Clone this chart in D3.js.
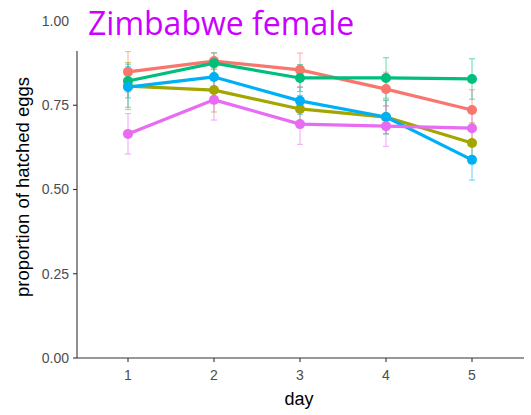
<!DOCTYPE html>
<html>
<head>
<meta charset="utf-8">
<script src="https://cdn.jsdelivr.net/npm/d3@7"></script>
<style>
  html, body { margin: 0; padding: 0; background: #fff; }
  svg { display: block; }
</style>
</head>
<body>
<svg id="chart" width="531" height="415"></svg>
<script>
// Days of observation
const days = [1, 2, 3, 4, 5];
const yTicks = [0, 0.25, 0.5, 0.75, 1.0];

// Mean proportion of hatched eggs per group and day
const groupNames = ["A", "B", "C", "D", "E"];
const groupColors = ["#F8766D", "#A3A500", "#00BF7D", "#00B0F6", "#E76BF3"];
const meanA = [0.849, 0.881, 0.855, 0.798, 0.736];
const meanB = [0.807, 0.795, 0.739, 0.715, 0.638];
const meanC = [0.822, 0.875, 0.831, 0.831, 0.828];
const meanD = [0.804, 0.834, 0.763, 0.715, 0.588];
const meanE = [0.665, 0.766, 0.694, 0.688, 0.682];
// Standard errors
const seA = [0.06, 0.025, 0.05, 0.05, 0.06];
const seB = [0.07, 0.065, 0.04, 0.05, 0.06];
const seC = [0.05, 0.03, 0.04, 0.06, 0.06];
const seD = [0.06, 0.04, 0.04, 0.05, 0.06];
const seE = [0.06, 0.06, 0.06, 0.06, 0.05];

const means = [meanA, meanB, meanC, meanD, meanE];
const ses = [seA, seB, seC, seD, seE];

const series = groupNames.map((name, i) => ({
  name,
  color: groupColors[i],
  values: days.map((d, j) => ({ day: d, mean: means[i][j], se: ses[i][j] }))
}));

const svg = d3.select("#chart");

const x = d3.scaleLinear().domain([1, 5]).range([128, 472]);
const y = d3.scaleLinear().domain([0, 1]).range([358, 21]);

const axisColor = "#333333";
const labelColor = "#4D4D4D";
const sans = "Liberation Sans, Arial, sans-serif";

// Y axis
const yAxis = svg.append("g").attr("transform", "translate(77,0)");
yAxis.append("line")
  .attr("x1", 0).attr("x2", 0)
  .attr("y1", 51).attr("y2", y(0))
  .attr("stroke", axisColor).attr("stroke-width", 1.1);
yAxis.selectAll(".yt").data(yTicks).enter().append("g")
  .attr("transform", d => `translate(0,${y(d)})`)
  .each(function (d) {
    const g = d3.select(this);
    if (d < 1) {
      g.append("line").attr("x1", -4).attr("x2", 0)
        .attr("stroke", axisColor).attr("stroke-width", 1.1);
    }
    g.append("text")
      .attr("x", -8).attr("dy", "0.35em")
      .attr("text-anchor", "end")
      .attr("font-family", sans)
      .attr("font-size", 14)
      .attr("fill", labelColor)
      .text(d3.format(".2f")(d));
  });

// X axis
const xAxis = svg.append("g").attr("transform", `translate(0,${y(0)})`);
xAxis.append("line")
  .attr("x1", 77).attr("x2", 524)
  .attr("stroke", axisColor).attr("stroke-width", 1.1);
xAxis.selectAll(".xt").data(days).enter().append("g")
  .attr("transform", d => `translate(${x(d)},0)`)
  .each(function (d) {
    const g = d3.select(this);
    g.append("line").attr("y1", 0).attr("y2", 4)
      .attr("stroke", axisColor).attr("stroke-width", 1.1);
    g.append("text")
      .attr("y", 17).attr("dy", "0.35em")
      .attr("text-anchor", "middle")
      .attr("font-family", sans)
      .attr("font-size", 14)
      .attr("fill", labelColor)
      .text(d);
  });

// Axis titles
svg.append("text")
  .attr("x", 299).attr("y", 405)
  .attr("text-anchor", "middle")
  .attr("font-family", sans)
  .attr("font-size", 18)
  .attr("fill", "#000")
  .text("day");

svg.append("text")
  .attr("transform", "translate(29,187) rotate(-90)")
  .attr("text-anchor", "middle")
  .attr("font-family", sans)
  .attr("font-size", 18.5)
  .attr("fill", "#000")
  .text("proportion of hatched eggs");

// Error bars
const capHalf = 3;
const eb = svg.append("g").attr("class", "errorbars");
series.forEach(s => {
  const g = eb.append("g").attr("stroke", s.color).attr("stroke-width", 1).attr("opacity", 0.6);
  s.values.forEach(v => {
    const cx = x(v.day);
    const top = y(v.mean + v.se), bot = y(v.mean - v.se);
    g.append("line").attr("x1", cx).attr("x2", cx).attr("y1", top).attr("y2", bot);
    g.append("line").attr("x1", cx - capHalf).attr("x2", cx + capHalf).attr("y1", top).attr("y2", top);
    g.append("line").attr("x1", cx - capHalf).attr("x2", cx + capHalf).attr("y1", bot).attr("y2", bot);
  });
});

// Lines
const line = d3.line().x(d => x(d.day)).y(d => y(d.mean));
svg.append("g").selectAll("path").data(series).enter().append("path")
  .attr("d", d => line(d.values))
  .attr("fill", "none")
  .attr("stroke", d => d.color)
  .attr("stroke-width", 3.2)
  .attr("stroke-linejoin", "round");

// Points
series.forEach(s => {
  svg.append("g").selectAll("circle").data(s.values).enter().append("circle")
    .attr("cx", d => x(d.day))
    .attr("cy", d => y(d.mean))
    .attr("r", 5)
    .attr("fill", s.color);
});

// Title
svg.append("text")
  .attr("x", 88).attr("y", 35)
  .attr("font-family", "Open Sans, Noto Sans, sans-serif")
  .attr("font-size", 32)
  .attr("fill", "#CC00FF")
  .text("Zimbabwe female");
</script>
</body>
</html>
